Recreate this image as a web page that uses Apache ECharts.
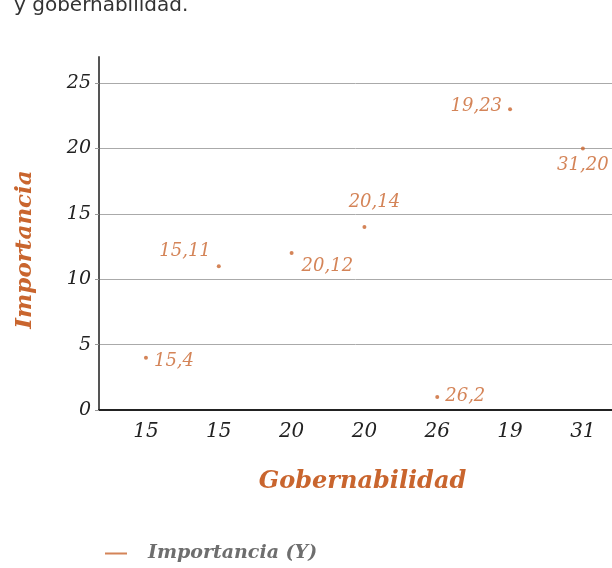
<!DOCTYPE html>
<html><head><meta charset="utf-8">
<script src="https://cdn.jsdelivr.net/npm/echarts@6/dist/echarts.min.js"></script>
<style>html,body{margin:0;padding:0;background:#fff}#c{width:612px;height:568px}</style>
</head><body><div id="c"></div>
<script>
const categories = ['15','15','20','20','26','19','31'];
const importancia = [4,11,12,14,1,23,20];
const pointLabels = ['15,4','15,11','20,12','20,14','26,2','19,23','31,20'];
const yTicks = [0,5,10,15,20,25];
const labelPlacement = ['right','left','right','top','right','left','bottom'];
const labelShift = [[0,4],[0,-15],[2,13],[10,-8],[0,-1],[0,-3],[0,0]];

const orange = '#c9652e';
const serif = '"DejaVu Serif","Liberation Serif",serif';

const data = importancia.map((v,i)=>({
  value:[i,v],
  label:{position:labelPlacement[i],offset:labelShift[i]}
}));

const chart = echarts.init(document.getElementById('c'));
chart.setOption({
  animation:false,
  title:{text:'y gobernabilidad.',left:9,top:-9,textStyle:{fontFamily:'"DejaVu Sans",sans-serif',fontSize:20,fontWeight:'normal',color:'#333'}},
  grid:{left:99,right:0,top:57,bottom:158,containLabel:false},
  xAxis:{type:'value',min:-0.645,max:6.4,minInterval:1,maxInterval:1,
    name:'Gobernabilidad',nameLocation:'middle',nameGap:60,
    nameTextStyle:{fontFamily:serif,fontStyle:'italic',fontWeight:'bold',fontSize:24,color:orange,padding:[0,0,0,14]},
    axisLine:{show:true,onZero:false,lineStyle:{color:'#222',width:2}},
    axisTick:{show:false},
    splitLine:{show:false},
    axisLabel:{margin:12,fontFamily:serif,fontStyle:'italic',fontSize:20,color:'#222',
      showMinLabel:false,showMaxLabel:false,
      formatter:v=>Number.isInteger(v)&&v>=0&&v<categories.length?categories[v]:''}
  },
  yAxis:{type:'value',min:0,max:27,minInterval:5,maxInterval:5,
    name:'Importancia',nameLocation:'middle',nameGap:62,nameRotate:90,
    nameTextStyle:{fontFamily:serif,fontStyle:'italic',fontWeight:'bold',fontSize:23,color:orange,padding:[0,0,0,-32]},
    axisLine:{show:true,onZero:false,lineStyle:{color:'#555',width:2}},
    axisTick:{show:true,length:4,lineStyle:{color:'#999'}},
    splitLine:{show:true,showMaxLine:false,lineStyle:{color:'#aaa',width:1}},
    axisLabel:{margin:8,fontFamily:serif,fontStyle:'italic',fontSize:19,color:'#222',showMaxLabel:false,
      formatter:v=>yTicks.includes(v)?String(v):''}
  },
  legend:{bottom:0,left:100,itemWidth:22,itemHeight:2,icon:'rect',
    itemStyle:{color:orange},
    textStyle:{fontFamily:serif,fontStyle:'italic',fontWeight:'bold',fontSize:19,color:'#6e6e6e',padding:[0,0,0,16]},
    data:['Importancia (Y)']},
  series:[{name:'Importancia (Y)',type:'scatter',symbolSize:4,
    itemStyle:{color:orange},
    label:{show:true,distance:6,fontFamily:serif,fontStyle:'italic',fontSize:18,color:orange,
      formatter:p=>pointLabels[p.dataIndex]},
    data:data}]
});
</script></body></html>
